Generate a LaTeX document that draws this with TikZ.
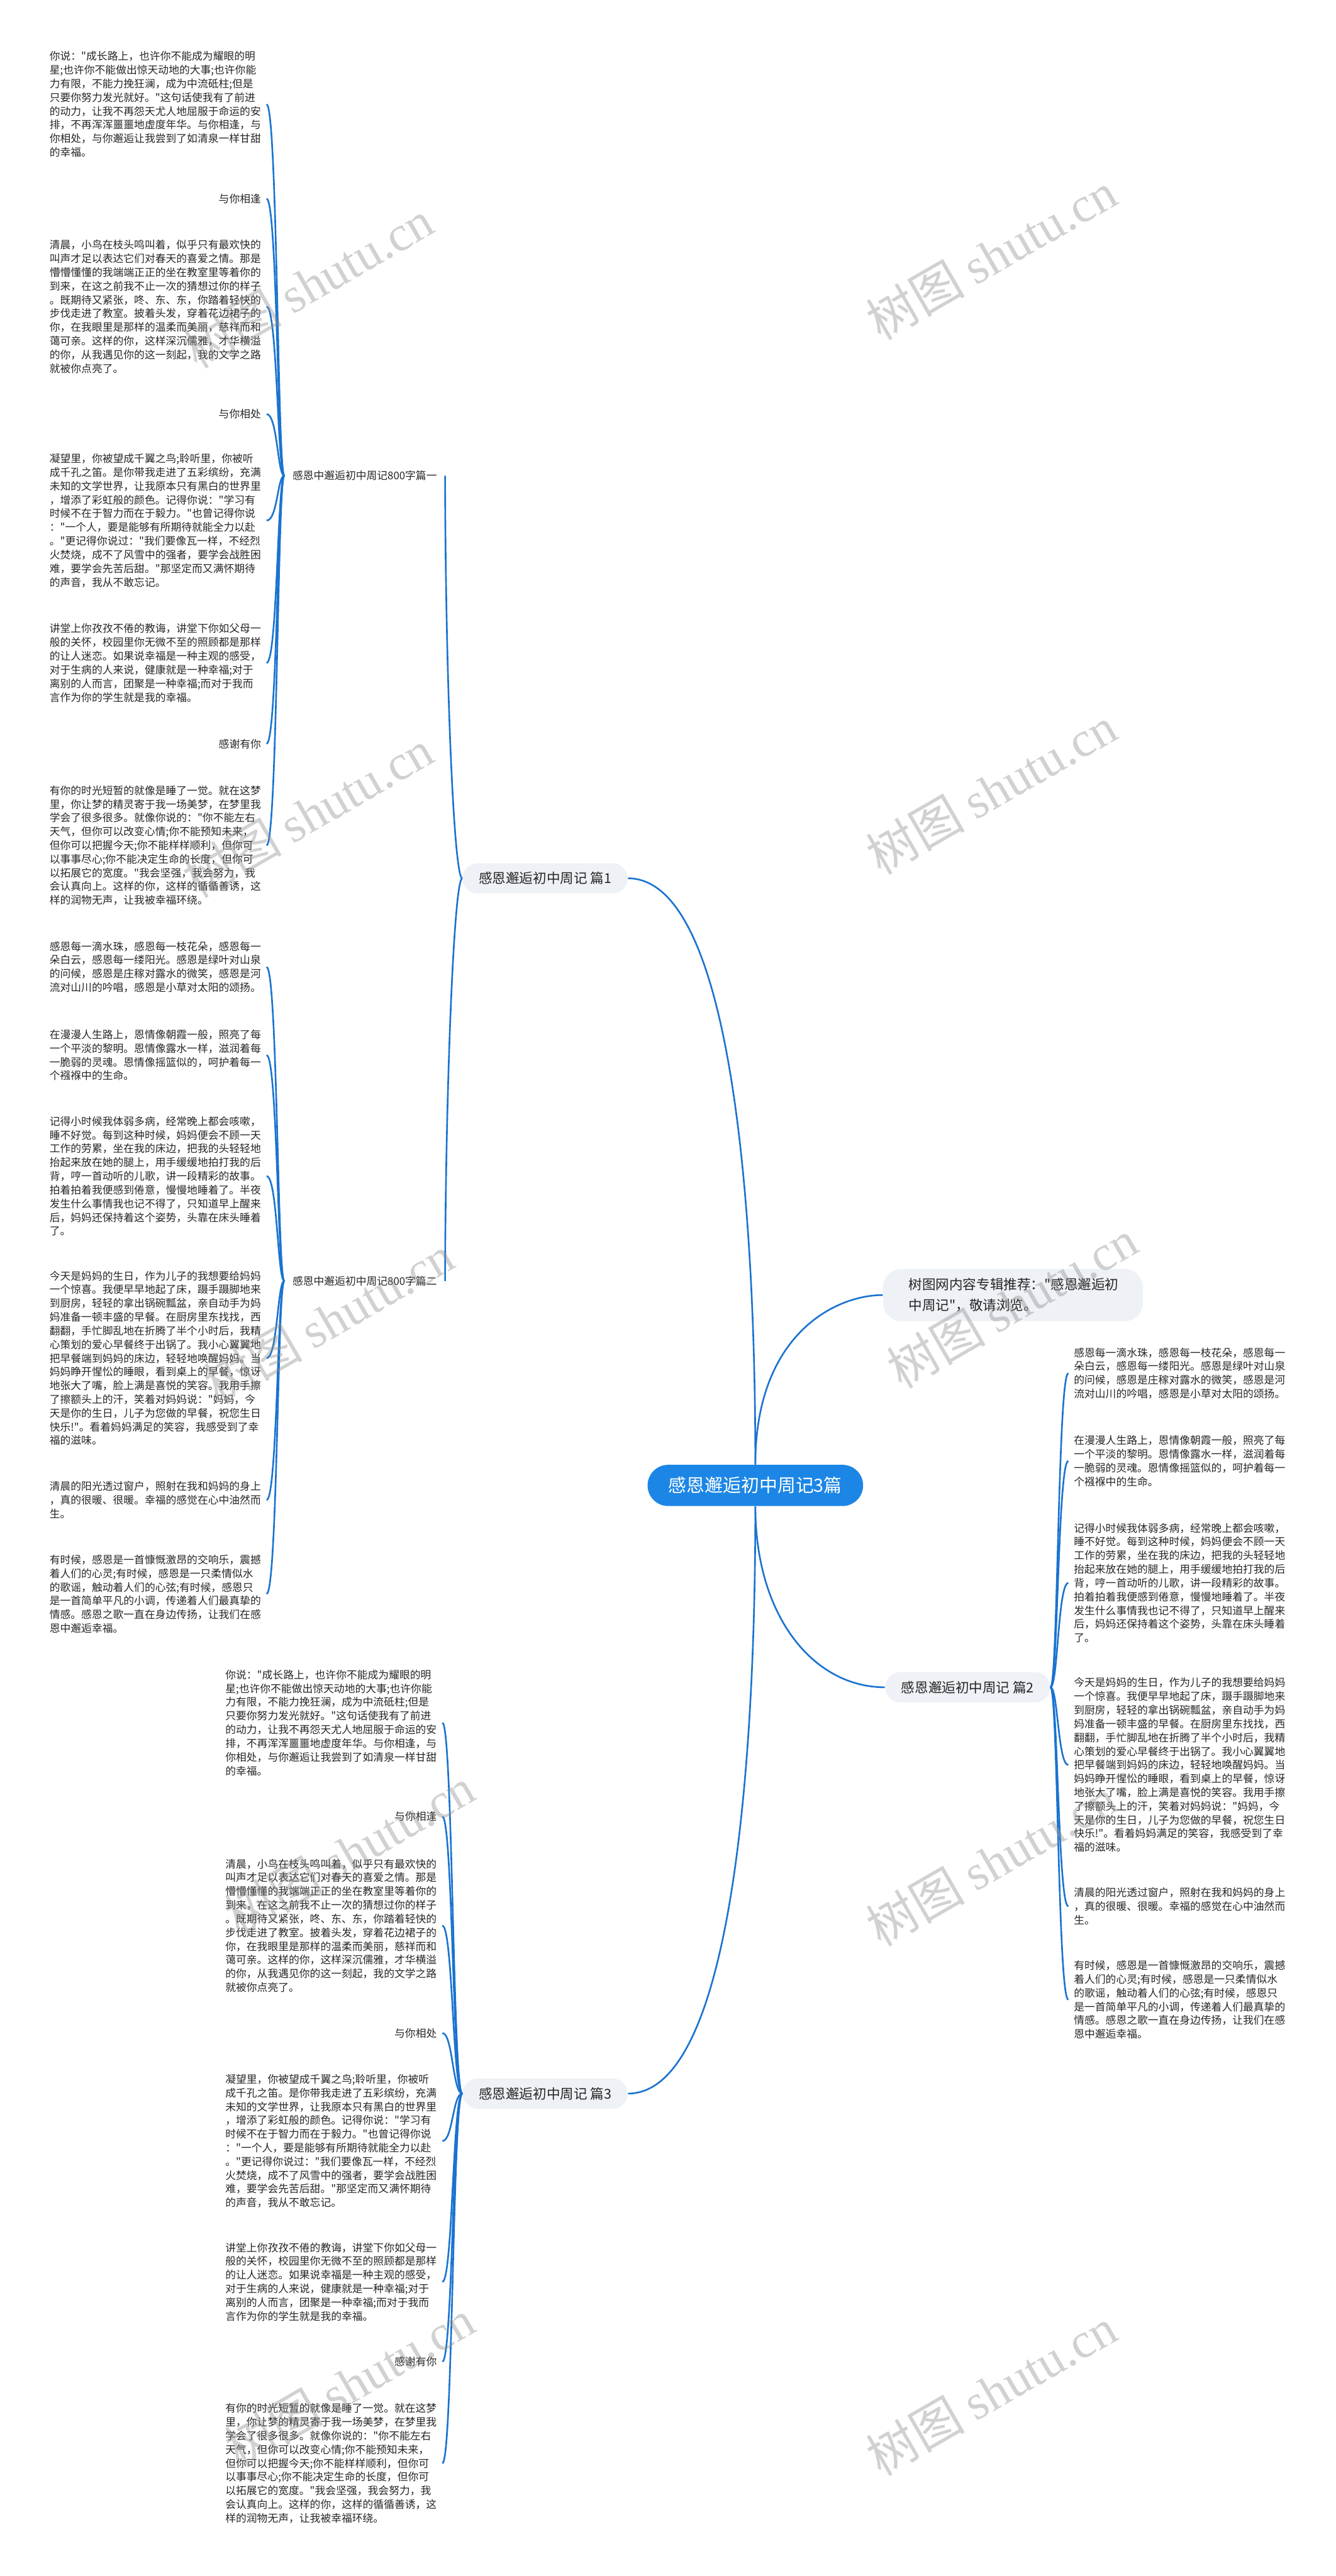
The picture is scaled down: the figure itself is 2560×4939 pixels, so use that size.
\documentclass[tikz,border=0pt]{standalone}
\usepackage{fontspec}
\setmainfont{Noto Sans CJK SC}
\newfontfamily\cjk{Noto Sans CJK SC}
\newfontfamily\wmlatin{Liberation Serif}

\definecolor{linkblue}{HTML}{1A73D0}
\definecolor{rootblue}{HTML}{1C86E6}
\definecolor{topicgray}{HTML}{EEF1F5}
\definecolor{inkgray}{HTML}{262626}

% paragraph texts (used twice)
\newcommand{\paraSay}{你说："成长路上，也许你不能成为耀眼的明\\星;也许你不能做出惊天动地的大事;也许你能\\力有限，不能力挽狂澜，成为中流砥柱;但是\\只要你努力发光就好。"这句话使我有了前进\\的动力，让我不再怨天尤人地屈服于命运的安\\排，不再浑浑噩噩地虚度年华。与你相逢，与\\你相处，与你邂逅让我尝到了如清泉一样甘甜\\的幸福。}
\newcommand{\paraMorn}{清晨，小鸟在枝头鸣叫着，似乎只有最欢快的\\叫声才足以表达它们对春天的喜爱之情。那是\\懵懵懂懂的我端端正正的坐在教室里等着你的\\到来，在这之前我不止一次的猜想过你的样子\\。既期待又紧张，咚、东、东，你踏着轻快的\\步伐走进了教室。披着头发，穿着花边裙子的\\你，在我眼里是那样的温柔而美丽，慈祥而和\\蔼可亲。这样的你，这样深沉儒雅，才华横溢\\的你，从我遇见你的这一刻起，我的文学之路\\就被你点亮了。}
\newcommand{\paraGaze}{凝望里，你被望成千翼之鸟;聆听里，你被听\\成千孔之笛。是你带我走进了五彩缤纷，充满\\未知的文学世界，让我原本只有黑白的世界里\\，增添了彩虹般的颜色。记得你说："学习有\\时候不在于智力而在于毅力。"也曾记得你说\\："一个人，要是能够有所期待就能全力以赴\\。"更记得你说过："我们要像瓦一样，不经烈\\火焚烧，成不了风雪中的强者，要学会战胜困\\难，要学会先苦后甜。"那坚定而又满怀期待\\的声音，我从不敢忘记。}
\newcommand{\paraClass}{讲堂上你孜孜不倦的教诲，讲堂下你如父母一\\般的关怀，校园里你无微不至的照顾都是那样\\的让人迷恋。如果说幸福是一种主观的感受，\\对于生病的人来说，健康就是一种幸福;对于\\离别的人而言，团聚是一种幸福;而对于我而\\言作为你的学生就是我的幸福。}
\newcommand{\paraDream}{有你的时光短暂的就像是睡了一觉。就在这梦\\里，你让梦的精灵寄于我一场美梦，在梦里我\\学会了很多很多。就像你说的："你不能左右\\天气，但你可以改变心情;你不能预知未来，\\但你可以把握今天;你不能样样顺利，但你可\\以事事尽心;你不能决定生命的长度，但你可\\以拓展它的宽度。"我会坚强，我会努力，我\\会认真向上。这样的你，这样的循循善诱，这\\样的润物无声，让我被幸福环绕。}
\newcommand{\paraDrop}{感恩每一滴水珠，感恩每一枝花朵，感恩每一\\朵白云，感恩每一缕阳光。感恩是绿叶对山泉\\的问候，感恩是庄稼对露水的微笑，感恩是河\\流对山川的吟唱，感恩是小草对太阳的颂扬。}
\newcommand{\paraRoad}{在漫漫人生路上，恩情像朝霞一般，照亮了每\\一个平淡的黎明。恩情像露水一样，滋润着每\\一脆弱的灵魂。恩情像摇篮似的，呵护着每一\\个襁褓中的生命。}
\newcommand{\paraChild}{记得小时候我体弱多病，经常晚上都会咳嗽，\\睡不好觉。每到这种时候，妈妈便会不顾一天\\工作的劳累，坐在我的床边，把我的头轻轻地\\抬起来放在她的腿上，用手缓缓地拍打我的后\\背，哼一首动听的儿歌，讲一段精彩的故事。\\拍着拍着我便感到倦意，慢慢地睡着了。半夜\\发生什么事情我也记不得了，只知道早上醒来\\后，妈妈还保持着这个姿势，头靠在床头睡着\\了。}
\newcommand{\paraBirth}{今天是妈妈的生日，作为儿子的我想要给妈妈\\一个惊喜。我便早早地起了床，蹑手蹑脚地来\\到厨房，轻轻的拿出锅碗瓢盆，亲自动手为妈\\妈准备一顿丰盛的早餐。在厨房里东找找，西\\翻翻，手忙脚乱地在折腾了半个小时后，我精\\心策划的爱心早餐终于出锅了。我小心翼翼地\\把早餐端到妈妈的床边，轻轻地唤醒妈妈。当\\妈妈睁开惺忪的睡眼，看到桌上的早餐，惊讶\\地张大了嘴，脸上满是喜悦的笑容。我用手擦\\了擦额头上的汗，笑着对妈妈说："妈妈，今\\天是你的生日，儿子为您做的早餐，祝您生日\\快乐!"。看着妈妈满足的笑容，我感受到了幸\\福的滋味。}
\newcommand{\paraSun}{清晨的阳光透过窗户，照射在我和妈妈的身上\\，真的很暖、很暖。幸福的感觉在心中油然而\\生。}
\newcommand{\paraSong}{有时候，感恩是一首慷慨激昂的交响乐，震撼\\着人们的心灵;有时候，感恩是一只柔情似水\\的歌谣，触动着人们的心弦;有时候，感恩只\\是一首简单平凡的小调，传递着人们最真挚的\\情感。感恩之歌一直在身边传扬，让我们在感\\恩中邂逅幸福。}

\begin{document}
\begin{tikzpicture}[x=0.01cm, y=-0.01cm,
  link/.style={draw=linkblue, line width=0.9pt},
  para/.style={text width=4.05cm, align=left, inner xsep=0.1cm, inner ysep=0pt,
    text=inkgray, font=\cjk\fontsize{5.76}{7.48}\selectfont},
  leaf/.style={inner xsep=0.1cm, inner ysep=0pt, text=inkgray,
    font=\cjk\fontsize{5.76}{7.48}\selectfont},
  topic/.style={fill=topicgray, rounded corners=0.29cm, minimum width=3.16cm,
    minimum height=0.58cm, text=inkgray, font=\cjk\fontsize{7.4}{9}\selectfont},
  wmark/.style={rotate=30, text=black!45, opacity=0.4, font=\cjk\fontsize{27}{30}\selectfont}]
  \fill[white] (0,0) rectangle (2560,4939);
  \useasboundingbox (0,0) rectangle (2560,4939);

  % Centre and main topics
  \node[fill=rootblue, rounded corners=0.395cm, minimum width=4.13cm, minimum height=0.79cm,
    text=white, font=\cjk\fontsize{9.9}{12}\selectfont] (root) at (1448,2848) {感恩邂逅初中周记3篇};
  \node[topic] (b1) at (1045,1684) {感恩邂逅初中周记 篇1};
  \node[topic] (b2) at (1855,3235) {感恩邂逅初中周记 篇2};
  \node[topic] (b3) at (1045,4014) {感恩邂逅初中周记 篇3};
  \node[fill=topicgray, rounded corners=0.35cm, minimum width=4.98cm, minimum height=1cm,
    text width=4cm, align=left, text=inkgray, font=\cjk\fontsize{7.4}{11.4}\selectfont]
    (note) at (1942,2483) {树图网内容专辑推荐："感恩邂逅初\\中周记"，敬请浏览。};

  % Sub topics of 篇1
  \node[leaf, anchor=west, inner xsep=0.15cm] (l1) at (545,912) {感恩中邂逅初中周记800字篇一};
  \node[leaf, anchor=west, inner xsep=0.15cm] (l2) at (545,2456) {感恩中邂逅初中周记800字篇二};

  % Texts of 800字篇一
  \node[para, anchor=east] (t1) at (511,200) {\paraSay};
  \node[leaf, anchor=east] (m1) at (511,381) {与你相逢};
  \node[para, anchor=east] (t2) at (511,588) {\paraMorn};
  \node[leaf, anchor=east] (m2) at (511,794) {与你相处};
  \node[para, anchor=east] (t3) at (511,998) {\paraGaze};
  \node[para, anchor=east] (t4) at (511,1271) {\paraClass};
  \node[leaf, anchor=east] (m3) at (511,1426) {感谢有你};
  \node[para, anchor=east] (t5) at (511,1621) {\paraDream};

  % Texts of 800字篇二
  \node[para, anchor=east] (t6) at (511,1854) {\paraDrop};
  \node[para, anchor=east] (t7) at (511,2023) {\paraRoad};
  \node[para, anchor=east] (t8) at (511,2255) {\paraChild};
  \node[para, anchor=east] (t9) at (511,2604) {\paraBirth};
  \node[para, anchor=east] (t10) at (511,2876) {\paraSun};
  \node[para, anchor=east] (t11) at (511,3056) {\paraSong};

  % Texts of 篇2
  \node[para, anchor=west] (r1) at (2048,2633) {\paraDrop};
  \node[para, anchor=west] (r2) at (2048,2801) {\paraRoad};
  \node[para, anchor=west] (r3) at (2048,3035) {\paraChild};
  \node[para, anchor=west] (r4) at (2048,3384) {\paraBirth};
  \node[para, anchor=west] (r5) at (2048,3655) {\paraSun};
  \node[para, anchor=west] (r6) at (2048,3834) {\paraSong};

  % Texts of 篇3
  \node[para, anchor=east] (s1) at (848,3303) {\paraSay};
  \node[leaf, anchor=east] (n1) at (848,3483) {与你相逢};
  \node[para, anchor=east] (s2) at (848,3692) {\paraMorn};
  \node[leaf, anchor=east] (n2) at (848,3898) {与你相处};
  \node[para, anchor=east] (s3) at (848,4105) {\paraGaze};
  \node[para, anchor=east] (s4) at (848,4375) {\paraClass};
  \node[leaf, anchor=east] (n3) at (848,4528) {感谢有你};
  \node[para, anchor=east] (s5) at (848,4723) {\paraDream};

  % Spines
  \coordinate (sp1) at (532,0);
  \coordinate (sp2) at (2028,0);
  \coordinate (sp3) at (868,0);

  % Connectors from the centre
  \draw[link] (root.north) .. controls (1448,2300) and (1400,1684) .. (b1.east);
  \draw[link] (root.north) .. controls (1448,2560) and (1600,2483) .. (note.west);
  \draw[link] (root.south) .. controls (1448,3100) and (1560,3235) .. (b2.west);
  \draw[link] (root.south) .. controls (1448,3400) and (1400,4014) .. (b3.east);
  \draw[link] (b1.west) .. controls (870,1684) and (854,1300) .. (l1.east);
  \draw[link] (b1.west) .. controls (870,1684) and (854,2100) .. (l2.east);

  % Connectors to the texts
  \foreach \c in {t1,m1,t2,m2,t3,t4,m3,t5}
    \draw[link] (l1.west) .. controls (l1.west -| sp1) and (\c.east -| sp1) .. (\c.east);
  \foreach \c in {t6,t7,t8,t9,t10,t11}
    \draw[link] (l2.west) .. controls (l2.west -| sp1) and (\c.east -| sp1) .. (\c.east);
  \foreach \c in {r1,r2,r3,r4,r5,r6}
    \draw[link] (b2.east) .. controls (b2.east -| sp2) and (\c.west -| sp2) .. (\c.west);
  \foreach \c in {s1,n1,s2,n2,s3,s4,n3,s5}
    \draw[link] (b3.west) .. controls (b3.west -| sp3) and (\c.east -| sp3) .. (\c.east);

  % Watermarks
  \foreach \wx/\wy [count=\i] in {590/545, 590/1560, 630/2530, 670/3550, 670/4570,
      1900/490, 1900/1515, 1940/2500, 1900/3570, 1900/4585}
    \node[wmark] (wm\i) at (\wx,\wy) {树图 {\wmlatin shutu.cn}};
\end{tikzpicture}
\end{document}
